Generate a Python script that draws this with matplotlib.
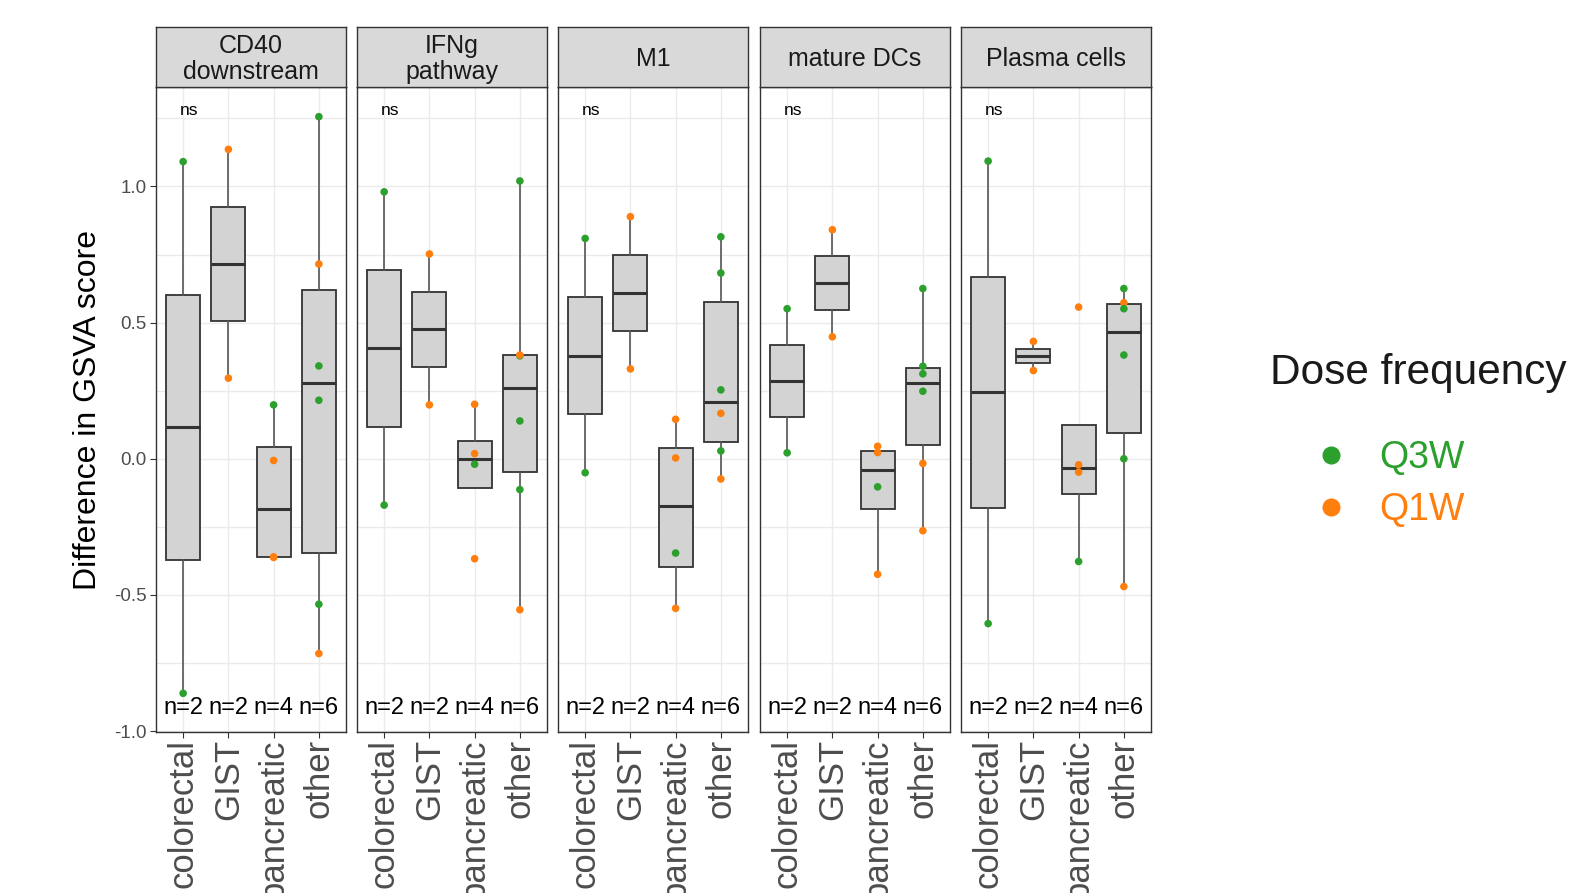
import numpy as np
import matplotlib.pyplot as plt
from matplotlib.lines import Line2D

plt.rcParams['font.family'] = ['Liberation Sans', 'DejaVu Sans']

# facets, categories, labels
panels = ["CD40\ndownstream", "IFNg\npathway", "M1", "mature DCs", "Plasma cells"]
categories = ["colorectal", "GIST", "pancreatic", "other"]
n_labels = ["n=2", "n=2", "n=4", "n=6"]
p_labels = ["ns", "ns", "ns", "ns", "ns"]

# values, G = Q3W, O = Q1W
cd40_val = [[1.091, -0.861], [1.136, 0.296], [0.198, -0.006, -0.360, -0.362],
            [1.256, 0.715, 0.341, 0.215, -0.534, -0.715]]
cd40_dose = [["G", "G"], ["O", "O"], ["G", "O", "O", "O"], ["G", "O", "G", "G", "G", "O"]]

ifng_val = [[0.980, -0.170], [0.752, 0.198], [0.200, 0.019, -0.020, -0.367],
            [1.020, 0.378, 0.381, 0.139, -0.113, -0.554]]
ifng_dose = [["G", "G"], ["O", "O"], ["O", "O", "G", "O"], ["G", "G", "O", "G", "G", "O"]]

m1_val = [[0.809, -0.051], [0.889, 0.330], [0.145, 0.003, -0.346, -0.549],
          [0.815, 0.682, 0.253, 0.167, 0.029, -0.074]]
m1_dose = [["G", "G"], ["O", "O"], ["O", "O", "G", "O"], ["G", "G", "G", "O", "G", "O"]]

dcs_val = [[0.551, 0.022], [0.841, 0.448], [0.046, 0.023, -0.103, -0.424],
           [0.625, 0.340, 0.312, 0.248, -0.017, -0.264]]
dcs_dose = [["G", "G"], ["O", "O"], ["O", "O", "G", "O"], ["G", "G", "G", "G", "O", "O"]]

plasma_val = [[1.093, -0.605], [0.431, 0.324], [0.557, -0.022, -0.049, -0.377],
              [0.625, 0.573, 0.551, 0.381, 0.0, -0.469]]
plasma_dose = [["G", "G"], ["O", "O"], ["O", "O", "O", "G"], ["G", "O", "G", "G", "G", "O"]]

all_val = [cd40_val, ifng_val, m1_val, dcs_val, plasma_val]
all_dose = [cd40_dose, ifng_dose, m1_dose, dcs_dose, plasma_dose]

dose_colors = {"G": "#2ca02c", "O": "#ff7f0e"}

W, H = 1571, 893
fig = plt.figure(figsize=(W / 100, H / 100), dpi=100)

lefts = [156, 357, 558, 760, 961]
pw = 190
top_px, bot_px = 87, 732
strip_top = 27

for k in range(5):
    ax = fig.add_axes([lefts[k] / W, 1 - bot_px / H, pw / W, (bot_px - top_px) / H])
    pos = np.arange(1, 5)
    bp = ax.boxplot(all_val[k], positions=pos, widths=0.75, patch_artist=True,
                    showfliers=False, showcaps=False, whis=1.5,
                    boxprops=dict(facecolor="#d3d3d3", edgecolor="#333333", linewidth=1.3),
                    medianprops=dict(color="#333333", linewidth=2.2),
                    whiskerprops=dict(color="#555555", linewidth=1.2))
    for i in range(4):
        cols = [dose_colors[d] for d in all_dose[k][i]]
        ax.scatter([pos[i]] * len(all_val[k][i]), all_val[k][i], c=cols, s=30,
                   edgecolors="none", zorder=4)
        ax.text(pos[i], -0.915, n_labels[i], ha="center", va="center", fontsize=17)
    ax.text(0.92, 1.277, p_labels[k], ha="left", va="center", fontsize=12.5)

    ax.set_xlim(0.4, 4.6)
    ax.set_ylim(-1.003, 1.365)
    ax.set_yticks([-1.0, -0.5, 0.0, 0.5, 1.0])
    ax.set_yticks([-0.75, -0.25, 0.25, 0.75, 1.25], minor=True)
    ax.set_xticks(pos)
    ax.set_xticklabels(categories, rotation=90, fontsize=25, color="#4D4D4D")
    ax.grid(True, which="both", color="#EBEBEB", linewidth=1)
    ax.set_axisbelow(True)
    ax.tick_params(axis="x", length=4, color="#333333", pad=1)
    ax.tick_params(axis="y", which="minor", length=0)
    for s in ax.spines.values():
        s.set_color("#333333")
        s.set_linewidth(1)
    if k == 0:
        ax.set_yticklabels(["-1.0", "-0.5", "0.0", "0.5", "1.0"], fontsize=13.5, color="#4D4D4D")
        ax.tick_params(axis="y", which="major", length=4, color="#333333", pad=3)
        ax.set_ylabel("Difference in GSVA score", fontsize=23, labelpad=8)
    else:
        ax.tick_params(axis="y", which="major", length=0, labelleft=False)

    # facet strip
    sx = fig.add_axes([lefts[k] / W, 1 - top_px / H, pw / W, (top_px - strip_top) / H])
    sx.set_facecolor("#D9D9D9")
    sx.set_xticks([])
    sx.set_yticks([])
    for s in sx.spines.values():
        s.set_color("#333333")
        s.set_linewidth(1)
    sx.text(0.5, 0.47, panels[k], ha="center", va="center", fontsize=18,
            color="#1A1A1A", linespacing=1.12, transform=sx.transAxes)

# legend
fig.text(1270 / W, 1 - 373 / H, "Dose frequency", fontsize=30.5, ha="left", va="center",
         color="#1A1A1A")
handles = [Line2D([], [], marker="o", ls="", color=dose_colors["G"], markersize=12),
           Line2D([], [], marker="o", ls="", color=dose_colors["O"], markersize=12)]
fig.legend(handles, ["Q3W", "Q1W"], loc="center left", bbox_to_anchor=(1312 / W, 1 - 484 / H),
           frameon=False, fontsize=27, labelcolor=[dose_colors["G"], dose_colors["O"]],
           handlelength=1, handletextpad=0.8, labelspacing=0.42, borderpad=0, borderaxespad=0)

fig.savefig("out.png", dpi=100)
